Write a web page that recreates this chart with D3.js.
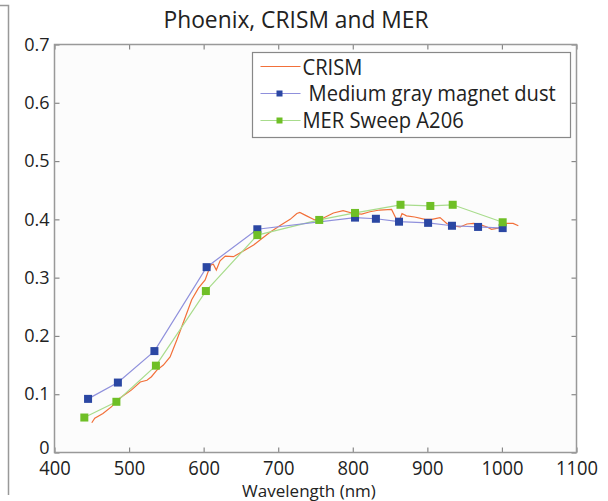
<!DOCTYPE html>
<html>
<head>
<meta charset="utf-8">
<script src="https://cdn.jsdelivr.net/npm/d3@7"></script>
<style>
  body { margin: 0; background: #fff; }
  text { font-family: "Open Sans", "Noto Sans", sans-serif; fill: #222; }
</style>
</head>
<body>
<div id="chart"></div>
<script>
// chart data
var xTicks = [400, 500, 600, 700, 800, 900, 1000, 1100];
var yTicks = [0, 0.1, 0.2, 0.3, 0.4, 0.5, 0.6, 0.7];

var crismWl = [450, 454, 465, 477, 481, 494, 503, 515, 524, 530, 537, 546, 555, 564, 573, 584, 593, 602, 606, 610,
  613, 617, 622, 629, 640, 651, 667, 676, 689, 702, 716, 725, 729, 738, 749, 760, 774, 787, 801, 812, 823, 836,
  852, 857, 861, 866, 872, 883, 897, 906, 917, 926, 933, 944, 953, 962, 971, 980, 986, 995, 1006, 1015, 1022];
var crismVal = [0.051, 0.059, 0.067, 0.079, 0.087, 0.099, 0.107, 0.121, 0.124, 0.130, 0.141, 0.150, 0.164, 0.193,
  0.224, 0.262, 0.282, 0.296, 0.310, 0.322, 0.323, 0.313, 0.329, 0.337, 0.336, 0.344, 0.356, 0.365, 0.378, 0.389,
  0.400, 0.410, 0.412, 0.406, 0.399, 0.402, 0.411, 0.415, 0.410, 0.409, 0.413, 0.416, 0.417, 0.404, 0.393, 0.410,
  0.406, 0.404, 0.400, 0.400, 0.403, 0.393, 0.389, 0.387, 0.392, 0.393, 0.391, 0.387, 0.383, 0.385, 0.393, 0.393, 0.389];

var dustWl = [445, 485, 534, 604, 672, 803, 831, 862, 901, 933, 968, 1001];
var dustVal = [0.092, 0.120, 0.174, 0.318, 0.383, 0.403, 0.401, 0.396, 0.394, 0.389, 0.387, 0.385];

var merWl = [440, 483, 536, 603, 672, 755, 803, 864, 904, 934, 1001];
var merVal = [0.060, 0.087, 0.149, 0.277, 0.373, 0.399, 0.411, 0.425, 0.423, 0.425, 0.395];

var svgWidth = 608;
var svgHeight = 501;
var margin = { top: 44.5, right: 31.5, bottom: 48.5, left: 54.5 };
var width = svgWidth - margin.left - margin.right;
var height = svgHeight - margin.top - margin.bottom;

var svg = d3.select("#chart").append("svg")
  .attr("width", svgWidth)
  .attr("height", svgHeight);

// cropped frame on the left edge
svg.append("path")
  .attr("d", "M0,5.5H8.5V495")
  .attr("fill", "none")
  .attr("stroke", "#999")
  .attr("stroke-width", 1.5);

var chartGroup = svg.append("g")
  .attr("transform", `translate(${margin.left},${margin.top})`);

var x = d3.scaleLinear().domain([400, 1100]).range([0, width]);
var y = d3.scaleLinear().domain([0, 0.7]).range([height, 0]);

chartGroup.append("rect")
  .attr("width", width).attr("height", height)
  .attr("fill", "#fcfcfc");

// axes, ticks pointing inward like matlab
function styleAxis(g) {
  g.select(".domain").remove();
  g.selectAll(".tick line").attr("stroke", "#888").attr("stroke-width", 1.2);
}

chartGroup.append("g")
  .attr("transform", `translate(0,${height})`)
  .call(d3.axisBottom(x).tickValues(xTicks).tickSize(-5).tickFormat(d3.format("d")).tickPadding(8))
  .call(styleAxis)
  .selectAll("text")
  .attr("font-size", 20).attr("font-family", "Open Sans").attr("fill", "#222")
  .attr("transform", "scale(0.92,1)");

chartGroup.append("g")
  .call(d3.axisTop(x).tickValues(xTicks).tickSize(-5).tickFormat(""))
  .call(styleAxis);

chartGroup.append("g")
  .call(d3.axisLeft(y).tickValues(yTicks).tickSize(-5).tickFormat(d => d === 0 ? "0" : d3.format(".1f")(d)).tickPadding(5))
  .call(styleAxis)
  .selectAll("text")
  .attr("font-size", 18).attr("font-family", "Open Sans").attr("fill", "#222")
  .attr("dy", d => d === 0 ? "0.05em" : "0.32em");

chartGroup.append("g")
  .attr("transform", `translate(${width},0)`)
  .call(d3.axisRight(y).tickValues(yTicks).tickSize(-5).tickFormat(""))
  .call(styleAxis);

chartGroup.append("rect")
  .attr("width", width).attr("height", height)
  .attr("fill", "none")
  .attr("stroke", "#999")
  .attr("stroke-width", 1.5);

var line = d3.line().x(d => x(d[0])).y(d => y(d[1]));

var crism = d3.zip(crismWl, crismVal);
var dust = d3.zip(dustWl, dustVal);
var mer = d3.zip(merWl, merVal);

chartGroup.append("path").datum(crism)
  .attr("d", line).attr("fill", "none")
  .attr("stroke", "#f2703a").attr("stroke-width", 1.2);

chartGroup.append("path").datum(mer)
  .attr("d", line).attr("fill", "none")
  .attr("stroke", "#a8dc8c").attr("stroke-width", 1.2);

chartGroup.append("path").datum(dust)
  .attr("d", line).attr("fill", "none")
  .attr("stroke", "#8f90dc").attr("stroke-width", 1.2);

chartGroup.selectAll(".dust").data(dust).enter().append("rect")
  .attr("class", "dust")
  .attr("x", d => x(d[0]) - 4).attr("y", d => y(d[1]) - 4)
  .attr("width", 8).attr("height", 8)
  .attr("fill", "#2b47a3");

chartGroup.selectAll(".mer").data(mer).enter().append("rect")
  .attr("class", "mer")
  .attr("x", d => x(d[0]) - 4).attr("y", d => y(d[1]) - 4)
  .attr("width", 8).attr("height", 8)
  .attr("fill", "#6fbf26");

// legend
var legend = svg.append("g").attr("transform", "translate(252.5,52.5)");
legend.append("rect")
  .attr("width", 318).attr("height", 85)
  .attr("fill", "#fff")
  .attr("stroke", "#888").attr("stroke-width", 1.2);

var legendItems = [
  { name: "CRISM", color: "#f2703a", marker: null, dx: 50 },
  { name: "Medium gray magnet dust", color: "#8f90dc", marker: "#2b47a3", dx: 56 },
  { name: "MER Sweep A206", color: "#a8dc8c", marker: "#6fbf26", dx: 50 }
];

legendItems.forEach(function(item, i) {
  var cy = 14 + i * 27;
  legend.append("line")
    .attr("x1", 8).attr("x2", 48).attr("y1", cy).attr("y2", cy)
    .attr("stroke", item.color).attr("stroke-width", 1.2);
  if (item.marker) {
    legend.append("rect")
      .attr("x", 24).attr("y", cy - 3).attr("width", 6).attr("height", 6)
      .attr("fill", item.marker);
  }
  legend.append("text")
    .attr("x", item.dx).attr("y", cy + 8)
    .attr("font-size", 21)
    .attr("transform", `translate(${item.dx},${cy}) scale(0.96,1) translate(${-item.dx},${-cy})`)
    .text(item.name);
});

// title and axis label
svg.append("text")
  .attr("x", 296).attr("y", 28)
  .attr("text-anchor", "middle")
  .attr("font-size", 24)
  .attr("transform", "translate(296,28) scale(0.95,1) translate(-296,-28)")
  .text("Phoenix, CRISM and MER");

svg.append("text")
  .attr("x", 309).attr("y", 497)
  .attr("text-anchor", "middle")
  .attr("font-size", 17)
  .text("Wavelength (nm)");
</script>
</body>
</html>
